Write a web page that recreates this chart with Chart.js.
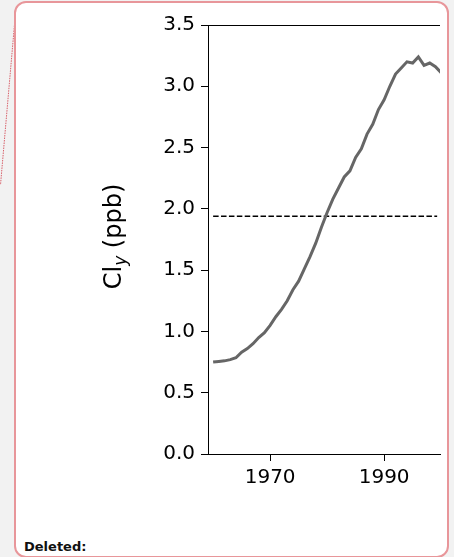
<!DOCTYPE html>
<html>
<head>
<meta charset="utf-8">
<script src="https://cdn.jsdelivr.net/npm/chart.js@4.4.1/dist/chart.umd.min.js"></script>
<style>
  html, body { margin:0; padding:0; }
  body { width:454px; height:557px; background:#f2f2f2; position:relative; overflow:hidden;
         font-family:"DejaVu Sans", sans-serif; }
  .card { position:absolute; left:14px; top:1px; width:431px; height:553px;
          background:#fff; border:2px solid #e8969a; border-radius:12px; }
  .note { position:absolute; left:24px; top:539px; font:bold 13px "DejaVu Sans", sans-serif; color:#111; }
  #lead { position:absolute; left:0; top:0; }
  #plot { position:absolute; left:0; top:0; }
</style>
</head>
<body>
<svg id="lead" width="20" height="200"><line x1="15.5" y1="13" x2="0.5" y2="185" stroke="#d8606a" stroke-width="1" stroke-dasharray="1.5,1"/></svg>
<div class="card"></div>
<canvas id="plot" width="454" height="510"></canvas>
<div class="note">Deleted:</div>
<script>
/* ===== データ ===== */
const YEARS = [1960,1961,1962,1963,1964,1965,1966,1967,1968,1969,
               1970,1971,1972,1973,1974,1975,1976,1977,1978,1979,
               1980,1981,1982,1983,1984,1985,1986,1987,1988,1989,
               1990,1991,1992,1993,1994,1995,1996,1997,1998,1999,2000];
const CLY = [0.75,0.755,0.76,0.77,0.785,0.83,0.86,0.90,0.95,0.99,
             1.05,1.12,1.18,1.25,1.34,1.41,1.51,1.61,1.72,1.85,
             1.97,2.08,2.17,2.26,2.31,2.42,2.49,2.61,2.69,2.81,
             2.89,3.00,3.10,3.15,3.20,3.19,3.24,3.17,3.19,3.16,3.11];
const REF_YEARS = [1960, 1999.3];
const REF_LEVEL = [1.94, 1.94];
const X_TICKS = [1970, 1990];
const Y_TICKS = [0,0.5,1.0,1.5,2.0,2.5,3.0,3.5];

/* ===== 設定 ===== */
const PLOT_L = 208, PLOT_T = 25, PLOT_R = 440, PLOT_B = 454;
const FONT = '"DejaVu Sans", sans-serif';

/* ===== 上枠 + 縦軸タイトル ===== */
const framePlugin = {
  id: 'frame',
  afterDraw(chart) {
    const { ctx, chartArea: a } = chart;
    ctx.save();
    ctx.strokeStyle = '#000';
    ctx.lineWidth = 1;
    ctx.beginPath();
    ctx.moveTo(a.left, a.top + 0.5);
    ctx.lineTo(a.right, a.top + 0.5);
    ctx.stroke();

    // Cl_y (ppb)
    ctx.translate(121, (a.top + a.bottom) / 2 - 3);
    ctx.rotate(-Math.PI / 2);
    ctx.fillStyle = '#000';
    ctx.textBaseline = 'alphabetic';
    const big = `24px ${FONT}`, sub = `italic 17px ${FONT}`;
    ctx.font = big; const w1 = ctx.measureText('Cl').width;
    ctx.font = sub; const w2 = ctx.measureText('y').width;
    ctx.font = big; const w3 = ctx.measureText(' (ppb)').width;
    let x = -(w1 + w2 + w3) / 2;
    ctx.font = big; ctx.fillText('Cl', x, 0); x += w1;
    ctx.font = sub; ctx.fillText('y', x, 5); x += w2;
    ctx.font = big; ctx.fillText(' (ppb)', x, 0);
    ctx.restore();
  }
};

new Chart(document.getElementById('plot').getContext('2d'), {
  type: 'line',
  data: {
    datasets: [
      {
        data: YEARS.map((y, i) => ({ x: y, y: CLY[i] })),
        borderColor: '#666666', borderWidth: 3, pointRadius: 0, tension: 0
      },
      {
        data: REF_YEARS.map((y, i) => ({ x: y, y: REF_LEVEL[i] })),
        borderColor: '#000', borderWidth: 1.5, borderDash: [5.5, 2.4], pointRadius: 0
      }
    ]
  },
  options: {
    responsive: false,
    animation: false,
    layout: { padding: { left: 0, top: PLOT_T, right: 454 - PLOT_R, bottom: 0 } },
    plugins: { legend: { display: false }, tooltip: { enabled: false } },
    scales: {
      x: {
        type: 'linear', min: 1959.1, max: 1999.8,
        afterBuildTicks(s) { s.ticks = X_TICKS.map(v => ({ value: v })); },
        afterFit(s) { s.height = 510 - PLOT_B; },
        grid: { display: true, drawOnChartArea: false, drawTicks: true, tickLength: 7, color: '#000' },
        border: { display: true, color: '#000', width: 1 },
        ticks: { color: '#000', font: { family: FONT, size: 20 }, padding: 5, maxRotation: 0,
                 callback: v => String(v) }
      },
      y: {
        min: 0, max: 3.5,
        afterBuildTicks(s) { s.ticks = Y_TICKS.map(v => ({ value: v })); },
        afterFit(s) { s.width = PLOT_L; },
        grid: { display: true, drawOnChartArea: false, drawTicks: true, tickLength: 7, color: '#000' },
        border: { display: true, color: '#000', width: 1 },
        ticks: { color: '#000', font: { family: FONT, size: 20 }, padding: 6,
                 callback: v => v.toFixed(1) }
      }
    }
  },
  plugins: [framePlugin]
});
</script>
</body>
</html>
